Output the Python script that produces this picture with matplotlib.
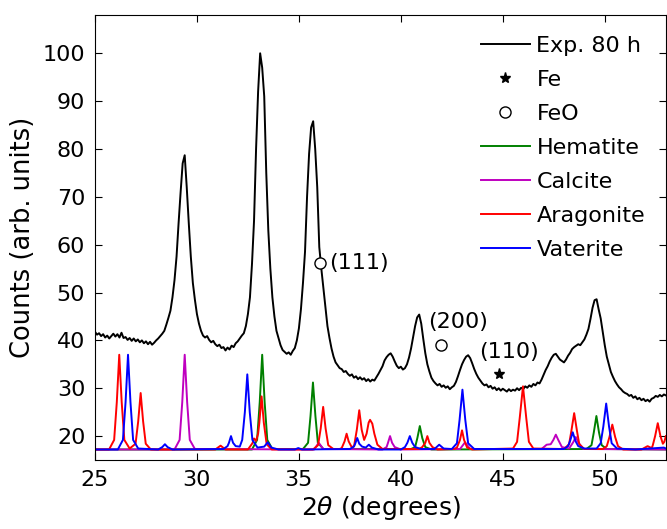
import numpy as np
import matplotlib
matplotlib.use('Agg')
import matplotlib.pyplot as plt

# Experimental pattern, one value every 0.1 deg from 25.0 to 53.0
exp_counts = [
    41.8, 41.2, 41.5, 40.9, 41.3, 40.6, 41.0, 40.4, 40.9, 41.4,   # 25
    40.8, 41.3, 40.6, 41.6, 40.5, 40.7, 40.1, 40.5, 39.9, 40.4,   # 26
    39.8, 40.2, 39.6, 40.0, 39.4, 39.8, 39.2, 39.7, 39.1, 39.5,   # 27
    40.0, 40.4, 40.9, 41.4, 42.0, 43.3, 44.7, 46.2, 49.0, 52.6,   # 28
    57.5, 64.5, 71.0, 77.0, 78.7, 72.0, 64.5, 57.5, 52.0, 48.5,   # 29
    45.5, 43.5, 42.0, 41.0, 40.6, 40.9, 40.1, 39.6, 39.9, 39.2,   # 30
    38.8, 39.1, 38.4, 38.6, 37.9, 38.5, 38.1, 38.9, 38.6, 39.4,   # 31
    39.8, 40.4, 41.0, 41.5, 43.0, 45.5, 49.0, 56.0, 65.0, 80.0,   # 32
    92.0, 100.0, 97.0, 91.0, 75.0, 63.0, 55.0, 49.0, 45.0, 42.0,  # 33
    40.5, 39.0, 38.0, 37.6, 37.2, 37.5, 37.0, 37.8, 38.4, 40.0,   # 34
    42.5, 46.5, 52.0, 58.5, 70.0, 79.0, 84.5, 85.8, 80.0, 72.0,   # 35
    59.5, 55.0, 51.0, 47.0, 43.0, 40.5, 38.3, 36.6, 35.4, 34.8,   # 36
    34.2, 34.0, 33.4, 33.6, 33.0, 32.6, 32.9, 32.2, 32.5, 31.9,   # 37
    32.3, 31.8, 32.1, 31.5, 31.9, 31.4, 31.8, 31.6, 32.3, 33.0,   # 38
    33.8, 34.6, 35.8, 36.5, 37.0, 37.3, 36.6, 35.6, 34.7, 34.2,   # 39
    34.5, 33.9, 34.2, 35.0, 36.4, 38.3, 40.6, 43.0, 44.8, 45.4,   # 40
    43.5, 40.3, 37.3, 35.0, 33.5, 32.2, 31.5, 31.0, 30.6, 30.9,   # 41
    30.3, 30.6, 30.1, 30.4, 29.8, 30.2, 30.5, 31.3, 32.5, 33.8,   # 42
    35.0, 35.9, 36.6, 36.9, 36.3, 35.2, 34.0, 33.0, 32.2, 31.6,   # 43
    31.0, 30.6, 30.8, 30.2, 30.5, 29.9, 30.2, 29.6, 30.0, 29.5,   # 44
    29.9, 29.6, 29.3, 29.8, 29.4, 29.7, 29.5, 30.0, 29.6, 30.1,   # 45
    29.8, 30.4, 30.1, 30.6, 30.3, 30.9, 30.6, 31.2, 31.0, 31.8,   # 46
    32.8, 33.8, 34.6, 35.6, 36.4, 37.0, 37.2, 36.6, 36.0, 35.7,   # 47
    35.4, 36.0, 36.8, 37.4, 38.2, 38.6, 38.9, 39.2, 39.0, 39.6,   # 48
    40.2, 41.2, 42.4, 44.5, 46.8, 48.4, 48.6, 46.5, 44.6, 41.8,   # 49
    39.0, 36.6, 35.0, 33.4, 32.4, 31.5, 30.8, 30.2, 29.8, 29.3,   # 50
    29.0, 28.8, 28.4, 28.6, 28.0, 28.3, 27.7, 28.0, 27.5, 27.8,   # 51
    27.3, 27.6, 27.2, 27.8, 28.0, 28.4, 28.2, 28.6, 28.3, 28.7,   # 52
    28.5,                                                         # 53
]
exp_2theta = np.round(25.0 + 0.1 * np.arange(len(exp_counts)), 1)

# Reference patterns
hematite_x = [25.0, 32.7, 32.95, 33.08, 33.2, 33.32, 33.45, 33.7,
              35.2, 35.45, 35.57, 35.69, 35.81, 35.93, 36.2,
              40.5, 40.7, 40.81, 40.93, 41.05, 41.2, 41.5,
              49.1, 49.35, 49.46, 49.59, 49.72, 49.85, 50.1, 53.0]
hematite_y = [17.2, 17.2, 19.2, 27.1, 37.0, 27.1, 19.2, 17.3,
              17.3, 18.6, 24.2, 31.2, 24.2, 18.6, 17.3,
              17.3, 17.7, 19.6, 22.1, 19.6, 17.7, 17.2,
              17.3, 18.1, 20.7, 24.2, 20.7, 18.1, 17.3, 17.2]

calcite_x = [25.0, 28.9, 29.15, 29.28, 29.4, 29.52, 29.65, 29.9,
             35.75, 35.97, 36.2,
             39.1, 39.3, 39.37, 39.47, 39.57, 39.7, 40.0,
             42.9, 43.15, 43.4,
             46.9, 47.15, 47.35, 47.48, 47.6, 47.72, 47.9,
             48.25, 48.45, 48.58, 48.7, 48.95, 53.0]
calcite_y = [17.2, 17.2, 19.2, 27.1, 37.0, 27.1, 19.2, 17.3,
             17.2, 18.6, 17.3,
             17.2, 17.7, 18.6, 20.0, 18.6, 17.7, 17.2,
             17.3, 18.7, 17.3,
             17.3, 18.2, 18.3, 19.2, 20.3, 19.2, 17.7,
             17.4, 18.7, 19.8, 18.7, 17.3, 17.2]

aragonite_x = [25.0, 25.69, 25.94, 26.07, 26.19, 26.31, 26.44, 26.7,
               26.99, 27.12, 27.24, 27.36, 27.49, 27.74,
               30.9, 31.16, 31.4,
               32.5, 32.72, 32.8, 32.9, 33.0, 33.06, 33.17, 33.28, 33.42, 33.67,
               35.69, 35.94, 36.07, 36.19, 36.31, 36.44, 36.69,
               37.0, 37.1, 37.24, 37.34, 37.44, 37.6, 37.71, 37.84, 37.96,
               38.08, 38.2, 38.32, 38.42, 38.49, 38.6, 38.7, 38.85, 39.1,
               40.9, 41.05, 41.2, 41.3, 41.4, 41.55, 41.8,
               42.6, 42.75, 42.9, 43.0, 43.1, 43.25, 43.5,
               45.5, 45.7, 45.83, 45.99, 46.15, 46.28, 46.5,
               48.0, 48.25, 48.36, 48.5, 48.64, 48.75, 49.0,
               49.9, 50.1, 50.23, 50.37, 50.51, 50.65, 50.9,
               51.8, 52.1, 52.3, 52.35, 52.47, 52.6, 52.73, 52.85, 52.92, 53.0]
aragonite_y = [17.2, 17.2, 19.2, 27.1, 37.0, 27.1, 19.2, 17.4,
               18.4, 23.1, 29.0, 23.1, 18.4, 17.2,
               17.2, 18.0, 17.2,
               17.2, 18.5, 19.5, 19.0, 20.5, 22.8, 28.3, 22.8, 18.3, 17.2,
               17.2, 18.1, 21.6, 26.1, 21.6, 18.1, 17.3,
               17.3, 17.5, 18.9, 20.5, 18.9, 17.6, 18.0, 21.3, 25.4,
               21.3, 19.2, 20.5, 22.8, 23.4, 22.6, 20.5, 18.2, 17.3,
               17.3, 17.7, 18.6, 20.0, 18.6, 17.7, 17.2,
               17.3, 17.6, 19.2, 21.2, 19.2, 17.6, 17.2,
               17.4, 18.8, 23.8, 30.4, 23.8, 18.8, 17.4,
               17.3, 18.3, 21.0, 24.8, 21.0, 18.3, 17.3,
               17.3, 17.9, 19.8, 22.4, 19.8, 17.9, 17.2,
               17.2, 17.9, 17.5, 18.0, 20.0, 22.7, 20.0, 18.4, 18.8, 20.0]

vaterite_x = [25.0, 26.12, 26.37, 26.5, 26.62, 26.74, 26.87, 27.12,
              28.1, 28.3, 28.43, 28.56, 28.8,
              31.3, 31.5, 31.57, 31.67, 31.77, 31.9, 32.1,
              32.22, 32.35, 32.47, 32.59, 32.72, 32.97,
              33.3, 33.47, 33.65, 34.0,
              34.8, 34.97, 35.15,
              37.5, 37.7, 37.76, 37.86, 37.96, 38.1, 38.28, 38.43, 38.58, 38.9,
              40.0, 40.2, 40.32, 40.44, 40.56, 40.7, 41.0,
              41.65, 41.88, 42.1,
              42.5, 42.75, 42.88, 43.02, 43.16, 43.3, 43.6,
              48.0, 48.2, 48.3, 48.43, 48.56, 48.7, 49.0,
              49.6, 49.8, 49.93, 50.07, 50.21, 50.34, 50.6,
              51.5, 52.9, 53.0]
vaterite_y = [17.2, 17.2, 19.2, 27.1, 37.0, 27.1, 19.2, 17.4,
              17.2, 17.7, 18.3, 17.7, 17.2,
              17.3, 17.9, 18.6, 20.0, 18.6, 17.9, 17.8,
              19.2, 25.0, 32.9, 25.0, 19.2, 17.6,
              17.8, 18.7, 17.6, 17.2,
              17.2, 17.5, 17.2,
              17.3, 17.8, 18.4, 19.6, 18.4, 17.8, 17.6, 18.2, 17.6, 17.2,
              17.2, 17.7, 18.6, 20.0, 18.6, 17.7, 17.3,
              17.3, 18.2, 17.4,
              17.3, 18.5, 23.4, 29.7, 23.4, 18.5, 17.3,
              17.3, 17.9, 19.0, 20.8, 19.0, 17.9, 17.4,
              17.4, 18.5, 22.0, 26.8, 22.0, 18.5, 17.4,
              17.2, 17.6, 17.4]

# Phase markers
feo_x = [36.05, 41.96]
feo_y = [56.1, 39.0]
fe_x = [44.8]
fe_y = [32.9]

plt.rcParams['font.size'] = 16
fig = plt.figure(figsize=(6.67, 5.29), dpi=100)
ax = fig.add_axes([0.1424, 0.1304, 0.856, 0.8412])

ax.plot(exp_2theta, exp_counts, color='k', lw=1.4, label='Exp. 80 h')
ax.plot(fe_x, fe_y, linestyle='none', marker='*', color='k', markersize=8, label='Fe')
ax.plot(feo_x, feo_y, linestyle='none', marker='o', mfc='white', mec='k',
        mew=1.0, markersize=8, label='FeO')
ax.plot(hematite_x, hematite_y, color='g', lw=1.4, label='Hematite')
ax.plot(calcite_x, calcite_y, color='m', lw=1.4, label='Calcite')
ax.plot(aragonite_x, aragonite_y, color='r', lw=1.4, label='Aragonite')
ax.plot(vaterite_x, vaterite_y, color='b', lw=1.4, label='Vaterite')

ax.text(36.5, 56.1, '(111)', ha='left', va='center', fontsize=16)
ax.text(41.35, 43.9, '(200)', ha='left', va='center', fontsize=16)
ax.text(43.85, 37.6, '(110)', ha='left', va='center', fontsize=16)

ax.set_xlim(25, 53)
ax.set_ylim(15, 108)
ax.set_xticks([25, 30, 35, 40, 45, 50])
ax.set_yticks(np.arange(20, 101, 10))
ax.tick_params(direction='in', top=True, right=True, length=5, width=0.8,
               labelsize=16, pad=7)
for s in ax.spines.values():
    s.set_linewidth(0.8)

ax.set_xlabel(r'2$\theta$ (degrees)', fontsize=18, labelpad=3)
ax.set_ylabel('Counts (arb. units)', fontsize=18.5, labelpad=5)

ax.legend(loc='upper right', frameon=False, fontsize=16, handlelength=2.2,
          handletextpad=0.3, labelspacing=0.63, borderaxespad=0.54)

fig.savefig('out.png', dpi=100)
